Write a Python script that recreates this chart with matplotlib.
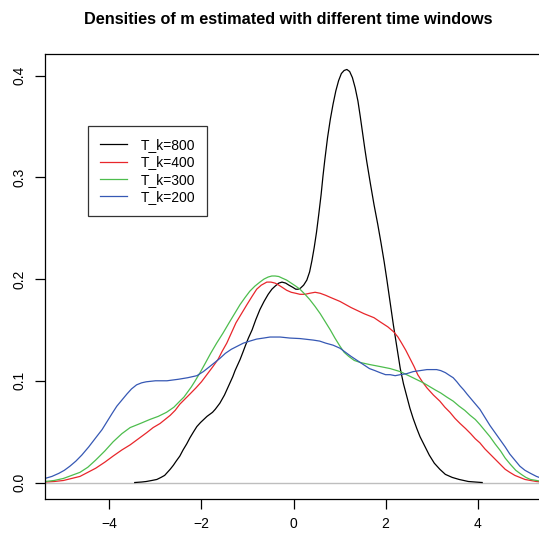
import numpy as np
import matplotlib
matplotlib.use("Agg")
import matplotlib.pyplot as plt

plt.rcParams["font.family"] = ["Liberation Sans", "DejaVu Sans"]

# density estimates of m for each time window (x, density)
x_800 = [-3.45, -3.3, -3.2, -3.08, -2.97, -2.88, -2.8, -2.74, -2.68, -2.61, -2.55, -2.47,
         -2.40, -2.32, -2.25, -2.17, -2.10, -2.02, -1.95, -1.88, -1.82, -1.76, -1.70, -1.65,
         -1.60, -1.55, -1.50, -1.44, -1.38, -1.32, -1.27, -1.21, -1.16, -1.10, -1.05, -0.98,
         -0.90, -0.82, -0.73, -0.64, -0.55, -0.47, -0.40, -0.32, -0.25, -0.17, -0.10, -0.02,
         0.05, 0.10, 0.15, 0.22, 0.29, 0.35, 0.40, 0.45, 0.50, 0.55, 0.60, 0.64, 0.68, 0.74,
         0.80, 0.86, 0.92, 0.98, 1.04, 1.10, 1.16, 1.22, 1.28, 1.34, 1.40, 1.45, 1.50, 1.55,
         1.59, 1.67, 1.75, 1.83, 1.90, 1.97, 2.03, 2.10, 2.17, 2.25, 2.32, 2.39, 2.46, 2.53,
         2.60, 2.68, 2.75, 2.85, 2.95, 3.06, 3.18, 3.3, 3.45, 3.6, 3.8, 4.1]
d_800 = [0.0, 0.0005, 0.001, 0.002, 0.003, 0.005, 0.007, 0.010, 0.013, 0.017, 0.021, 0.026,
         0.032, 0.038, 0.044, 0.050, 0.055, 0.059, 0.062, 0.065, 0.067, 0.069, 0.072, 0.075,
         0.078, 0.082, 0.086, 0.092, 0.098, 0.104, 0.110, 0.116, 0.121, 0.128, 0.134, 0.142,
         0.150, 0.160, 0.170, 0.178, 0.185, 0.190, 0.193, 0.196, 0.197, 0.196, 0.194, 0.192,
         0.190, 0.190, 0.191, 0.194, 0.199, 0.207, 0.218, 0.231, 0.246, 0.264, 0.283, 0.301,
         0.317, 0.339, 0.357, 0.372, 0.385, 0.395, 0.402, 0.405, 0.406, 0.404, 0.398, 0.388,
         0.375, 0.360, 0.344, 0.328, 0.316, 0.294, 0.273, 0.254, 0.236, 0.217, 0.199, 0.177,
         0.155, 0.132, 0.112, 0.097, 0.085, 0.073, 0.063, 0.053, 0.045, 0.036, 0.027, 0.019,
         0.013, 0.008, 0.005, 0.003, 0.001, 0.0]

x_400 = [-5.6, -5.4, -5.2, -5.0, -4.82, -4.64, -4.47, -4.3, -4.1, -3.92, -3.73, -3.55,
         -3.37, -3.19, -3.05, -2.90, -2.79, -2.68, -2.57, -2.47, -2.36, -2.25, -2.12, -2.0,
         -1.85, -1.75, -1.64, -1.55, -1.45, -1.35, -1.25, -1.13, -1.01, -0.90, -0.80, -0.70,
         -0.58, -0.49, -0.40, -0.32, -0.25, -0.15, -0.05, 0.05, 0.14, 0.25, 0.35, 0.47, 0.58,
         0.70, 0.80, 1.01, 1.25, 1.53, 1.75, 1.88, 2.05, 2.18, 2.27, 2.35, 2.44, 2.53, 2.62,
         2.70, 2.80, 2.90, 3.04, 3.18, 3.29, 3.40, 3.51, 3.62, 3.74, 3.85, 3.95, 4.05, 4.16,
         4.27, 4.38, 4.49, 4.60, 4.70, 4.81, 4.92, 5.03, 5.15, 5.28, 5.4, 5.6]
d_400 = [0.0, 0.0005, 0.001, 0.002, 0.004, 0.006, 0.010, 0.014, 0.020, 0.026, 0.032, 0.037,
         0.043, 0.049, 0.054, 0.058, 0.062, 0.066, 0.071, 0.077, 0.082, 0.087, 0.093, 0.099,
         0.108, 0.114, 0.121, 0.129, 0.137, 0.147, 0.157, 0.166, 0.175, 0.183, 0.190, 0.194,
         0.197, 0.197, 0.196, 0.194, 0.192, 0.189, 0.187, 0.186, 0.185, 0.185, 0.186, 0.187,
         0.186, 0.184, 0.182, 0.178, 0.172, 0.166, 0.162, 0.158, 0.153, 0.148, 0.143, 0.137,
         0.130, 0.122, 0.114, 0.106, 0.099, 0.093, 0.086, 0.080, 0.074, 0.069, 0.063, 0.058,
         0.053, 0.048, 0.043, 0.039, 0.033, 0.028, 0.023, 0.018, 0.013, 0.010, 0.007, 0.005,
         0.003, 0.002, 0.001, 0.0005, 0.0]

x_300 = [-5.6, -5.4, -5.2, -5.0, -4.82, -4.64, -4.47, -4.3, -4.1, -3.92, -3.73, -3.55,
         -3.33, -3.12, -2.94, -2.76, -2.60, -2.47, -2.38, -2.30, -2.22, -2.15, -2.03, -1.92,
         -1.80, -1.67, -1.53, -1.40, -1.28, -1.16, -1.05, -0.95, -0.84, -0.73, -0.64, -0.55,
         -0.47, -0.40, -0.32, -0.25, -0.15, -0.05, 0.05, 0.14, 0.25, 0.35, 0.47, 0.58, 0.69,
         0.80, 0.90, 1.01, 1.10, 1.20, 1.32, 1.45, 1.65, 1.88, 2.10, 2.32, 2.55, 2.82, 3.08,
         3.20, 3.33, 3.47, 3.60, 3.72, 3.84, 3.95, 4.05, 4.16, 4.27, 4.38, 4.50, 4.60, 4.71,
         4.83, 4.95, 5.05, 5.15, 5.28, 5.4, 5.6]
d_300 = [0.0005, 0.001, 0.002, 0.004, 0.007, 0.010, 0.015, 0.022, 0.031, 0.040, 0.048, 0.054,
         0.058, 0.062, 0.065, 0.069, 0.074, 0.080, 0.084, 0.089, 0.094, 0.099, 0.108, 0.117,
         0.127, 0.137, 0.147, 0.157, 0.166, 0.175, 0.182, 0.188, 0.193, 0.197, 0.200, 0.202,
         0.203, 0.203, 0.2025, 0.201, 0.199, 0.196, 0.193, 0.190, 0.185, 0.180, 0.173, 0.166,
         0.158, 0.150, 0.142, 0.134, 0.128, 0.124, 0.120, 0.118, 0.116, 0.114, 0.112, 0.109,
         0.104, 0.098, 0.091, 0.088, 0.084, 0.080, 0.075, 0.071, 0.066, 0.062, 0.057, 0.051,
         0.045, 0.038, 0.031, 0.024, 0.018, 0.012, 0.008, 0.005, 0.003, 0.002, 0.001, 0.0005]

x_200 = [-5.6, -5.4, -5.25, -5.1, -4.98, -4.86, -4.73, -4.6, -4.45, -4.28, -4.16, -4.05,
         -3.94, -3.84, -3.73, -3.62, -3.52, -3.41, -3.3, -3.2, -3.0, -2.75, -2.50, -2.30,
         -2.10, -1.96, -1.82, -1.71, -1.6, -1.48, -1.35, -1.22, -1.09, -0.95, -0.80, -0.65,
         -0.51, -0.29, -0.08, 0.14, 0.43, 0.57, 0.70, 0.86, 1.01, 1.13, 1.25, 1.35, 1.45, 1.55,
         1.65, 1.77, 1.88, 2.0, 2.10, 2.21, 2.32, 2.46, 2.60, 2.75, 2.90, 3.01, 3.11, 3.20,
         3.30, 3.40, 3.47, 3.55, 3.62, 3.70, 3.77, 3.90, 4.05, 4.16, 4.27, 4.38, 4.49, 4.60,
         4.70, 4.81, 4.92, 5.03, 5.15, 5.28, 5.4, 5.6]
d_200 = [0.002, 0.004, 0.006, 0.009, 0.012, 0.016, 0.021, 0.027, 0.035, 0.045, 0.052, 0.060,
         0.068, 0.075, 0.081, 0.087, 0.092, 0.096, 0.098, 0.099, 0.100, 0.100, 0.1015, 0.103,
         0.105, 0.109, 0.114, 0.118, 0.122, 0.127, 0.131, 0.134, 0.137, 0.139, 0.141, 0.142,
         0.143, 0.143, 0.142, 0.1415, 0.140, 0.139, 0.137, 0.135, 0.132, 0.128, 0.124, 0.121,
         0.118, 0.115, 0.112, 0.110, 0.108, 0.106, 0.106, 0.105, 0.106, 0.107, 0.109, 0.110,
         0.111, 0.111, 0.111, 0.110, 0.108, 0.105, 0.103, 0.099, 0.095, 0.091, 0.087, 0.080,
         0.072, 0.064, 0.056, 0.049, 0.042, 0.035, 0.028, 0.022, 0.016, 0.012, 0.009, 0.006,
         0.004, 0.002]

labels = ["T_k=800", "T_k=400", "T_k=300", "T_k=200"]
colors = ["black", "#e8262b", "#4dbd4d", "#3658b4"]

fig = plt.figure(figsize=(5.39, 5.38), dpi=100)
ax = fig.add_axes([45 / 539, 39 / 538, 497 / 539, 445 / 538])

ax.axhline(0, color="#bebebe", lw=1.0, zorder=1)
for xs, ds, lab, c in zip([x_800, x_400, x_300, x_200], [d_800, d_400, d_300, d_200], labels, colors):
    ax.plot(xs, ds, color=c, lw=0.9, label=lab, zorder=2)

ax.set_xlim(-5.4, 5.4)
ax.set_ylim(-0.0162, 0.4212)
ax.set_xticks([-4, -2, 0, 2, 4])
ax.set_yticks([0.0, 0.1, 0.2, 0.3, 0.4])
ax.set_yticklabels(["0.0", "0.1", "0.2", "0.3", "0.4"], rotation=90, va="center")
ax.tick_params(length=7, width=0.9, labelsize=10, pad=6)
for s in ax.spines.values():
    s.set_linewidth(0.9)

leg = ax.legend(loc="upper left", bbox_to_anchor=(0.0865, 0.838), fontsize=10,
                frameon=True, fancybox=False, handlelength=1.95, handletextpad=1.0,
                labelspacing=0.25, borderpad=0.85, borderaxespad=0)
leg.get_frame().set_edgecolor("black")
leg.get_frame().set_linewidth(0.9)

fig.text(288 / 539, 1 - 19 / 538, "Densities of m estimated with different time windows",
         ha="center", va="center", fontsize=11.7, fontweight="bold")

fig.savefig("out.png", dpi=100)
